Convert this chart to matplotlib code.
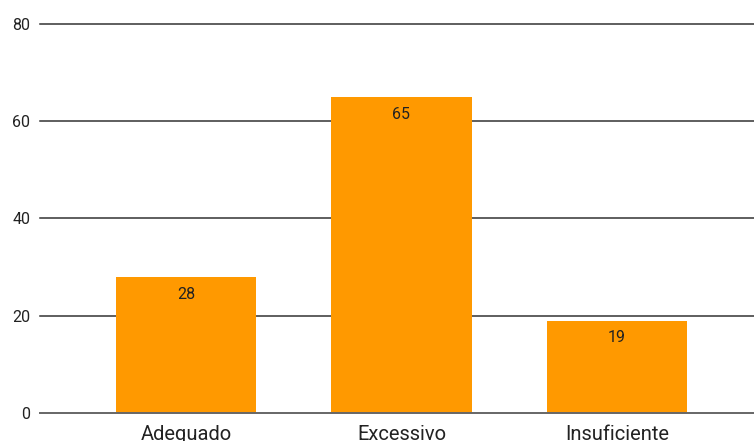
import matplotlib.pyplot as plt
import numpy as np

plt.rcParams['font.family'] = ['Roboto', 'DejaVu Sans']

categories = ['Adequado', 'Excessivo', 'Insuficiente']
counts = [28, 65, 19]
yticks = [0, 20, 40, 60, 80]

bar_color = '#ff9900'

fig = plt.figure(figsize=(7.54, 4.41), dpi=100)
ax = fig.add_axes([40 / 754, 28 / 441, 714 / 754, 389 / 441])

x = np.arange(len(categories))
bars = ax.bar(x, counts, width=0.65, color=bar_color, zorder=2)

# value labels inside the top of each bar
for rect, val in zip(bars, counts):
    ax.annotate(str(val), (rect.get_x() + rect.get_width() / 2, rect.get_height()),
                xytext=(0, -12.5), textcoords='offset points',
                ha='center', va='center', fontsize=11.5, color='#222222', zorder=3)

ax.set_xlim(-0.6775, 2.636)
ax.set_ylim(0, 80)
ax.set_yticks(yticks)
ax.set_xticks(x)
ax.set_xticklabels(categories)

for v in yticks[1:]:
    ax.axhline(v, color='#333333', lw=1.1, zorder=1, clip_on=False)
ax.axhline(0, color='#666666', lw=1.4, zorder=4, clip_on=False)

for s in ax.spines.values():
    s.set_visible(False)
ax.tick_params(axis='both', length=0, colors='#222222')
ax.tick_params(axis='y', pad=7, labelsize=11.5)
ax.tick_params(axis='x', pad=8.5, labelsize=14.5)

fig.savefig('out.png', dpi=100)
